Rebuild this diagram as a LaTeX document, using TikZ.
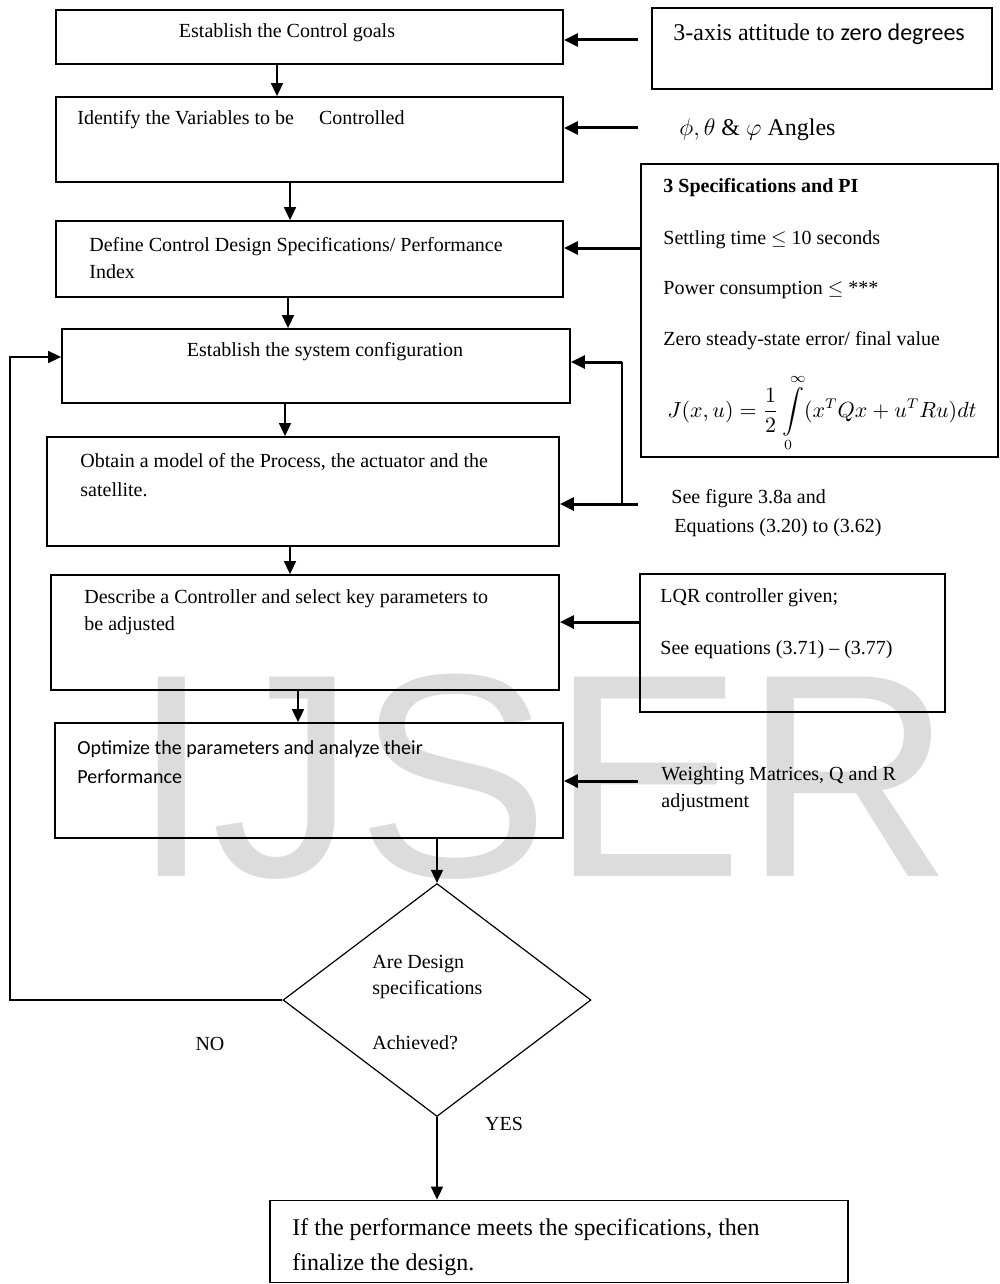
\documentclass[tikz,border=0pt]{standalone}
\usepackage{amsmath}
\usepackage{fontspec}
\setmainfont{Liberation Serif}
\newfontfamily\calibri{Carlito}
\newfontfamily\wmfont{Liberation Sans}
\usepackage{tikz}
\usetikzlibrary{positioning,shapes,arrows.meta,calc}
\definecolor{wmgray}{HTML}{DCDCDC}

\begin{document}
\begin{tikzpicture}[x=0.5pt, y=-0.5pt,
    box/.style={draw=black, line width=0.9pt, rectangle, inner sep=0pt},
    txt/.style={anchor=west, align=left, inner sep=0pt, font=\fontsize{10}{13.5}\selectfont},
    arr/.style={line width=0.8pt, -{Triangle[length=6.5pt,width=6pt]}},
    inarr/.style={line width=1.5pt, -{Triangle[length=7pt,width=6.5pt]}}]
      \useasboundingbox (0,0) rectangle (1000,1284);
      \node[font=\wmfont\fontsize{145}{145}\selectfont, text=wmgray, anchor=base, inner sep=0pt] (wm) at (542,876) {IJSER};

      \node[box, minimum width=253.5pt, minimum height=27pt] (b1) at (309.5,37) {};
      \node[box, minimum width=253.5pt, minimum height=42.5pt] (b2) at (309.5,139.5) {};
      \node[box, minimum width=253.5pt, minimum height=38pt] (b3) at (309.5,259) {};
      \node[box, minimum width=254pt, minimum height=37pt] (b4) at (316,366) {};
      \node[box, minimum width=256pt, minimum height=54.5pt] (b5) at (303,491.5) {};
      \node[box, minimum width=254pt, minimum height=57.5pt] (b6) at (305,632.5) {};
      \node[box, minimum width=254pt, minimum height=57.5pt] (b7) at (309,780.5) {};
      \node[draw, line width=0.6pt, diamond, minimum width=154pt, minimum height=116.5pt, inner sep=0pt] (dia) at (437,1000) {};
      \node[box, minimum width=289pt, minimum height=41pt] (fin) at (559,1241.5) {};
      \node[box, minimum width=170pt, minimum height=40.5pt] (ax) at (822,48.5) {};
      \node[box, minimum width=178.5pt, minimum height=146.5pt] (spec) at (819.5,310.5) {};
      \node[box, minimum width=152.5pt, minimum height=69pt] (lqr) at (792.5,643) {};

      \node[txt, anchor=center] (t1) at (287,33) {Establish the Control goals};
      \node[txt] (t2) at (77,120) {Identify the Variables to be \quad Controlled};
      \node[txt] (t3) at (89,258.5) {Define Control Design Specifications/ Performance\\Index};
      \node[txt, anchor=center] (t4) at (325,352) {Establish the system configuration};
      \node[txt, font=\fontsize{10}{14.5}\selectfont] (t5) at (80,475.5) {Obtain a model of the Process, the actuator and the\\satellite.};
      \node[txt] (t6) at (84,612.5) {Describe a Controller and select key parameters to\\be adjusted};
      \node[txt, font=\calibri\fontsize{10}{14.5}\selectfont] (t7) at (77,762.5) {Optimize the parameters and analyze their\\Performance};
      \node[txt, font=\fontsize{10}{13}\selectfont] (dq) at (372,1002.5) {Are Design\\specifications\\[14.5pt]Achieved?};
      \node[txt, anchor=center] (no) at (210,1044) {NO};
      \node[txt, anchor=center] (yes) at (504,1124) {YES};
      \node[txt, font=\fontsize{12}{17.5}\selectfont] (tf) at (292,1247.5) {If the performance meets the specifications, then\\finalize the design.};

      \node[txt, font=\fontsize{12}{14}\selectfont] (tax) at (673,34) {3-axis attitude to {\calibri zero degrees}};
      \node[txt, font=\fontsize{12}{14}\selectfont] (ang) at (679,130) {$\phi, \theta$ \& $\varphi$ Angles};
      \node[txt, font=\bfseries\fontsize{10}{12}\selectfont] (s0) at (663,188) {3 Specifications and PI};
      \node[txt] (s1) at (663,240) {Settling time $\leq$ 10 seconds};
      \node[txt] (s2) at (663,290) {Power consumption $\leq$ ***};
      \node[txt] (s3) at (663,341) {Zero steady-state error/ final value};
      \node[txt, anchor=center, font=\fontsize{10.5}{12}\selectfont] (s4) at (822,413) {$\displaystyle J(x,u)=\frac{1}{2}\int\limits_0^\infty (x^TQx+u^TRu)dt$};
      \node[txt, font=\fontsize{10}{14.5}\selectfont] (sf) at (671,513.5) {See figure 3.8a and\\\hspace{1.5pt}Equations (3.20) to (3.62)};
      \node[txt, font=\fontsize{10}{26}\selectfont] (lq) at (660,624) {LQR controller given;\\See equations (3.71) -- (3.77)};
      \node[txt] (wt) at (661,789.5) {Weighting Matrices, Q and R\\adjustment};

      \coordinate (c1) at (638,40);
      \coordinate (c2) at (638,128);
      \coordinate (c3) at (641,248);
      \coordinate (c4) at (622,362);
      \coordinate (c5) at (638,504);
      \coordinate (c5b) at (622,504);
      \coordinate (c6) at (640,622);
      \coordinate (c7) at (638,781);
      \coordinate (lx) at (10,0);
      \coordinate (v1) at (277,0);
      \coordinate (v2) at (290,0);
      \coordinate (v3) at (288,0);
      \coordinate (v4) at (285,0);
      \coordinate (v6) at (298,0);

      \draw[arr] (v1 |- b1.south) -- (v1 |- b2.north);
      \draw[arr] (v2 |- b2.south) -- (v2 |- b3.north);
      \draw[arr] (v3 |- b3.south) -- (v3 |- b4.north);
      \draw[arr] (v4 |- b4.south) -- (v4 |- b5.north);
      \draw[arr] (v2 |- b5.south) -- (v2 |- b6.north);
      \draw[arr] (v6 |- b6.south) -- (v6 |- b7.north);
      \draw[arr] (b7.south -| dia.north) -- (dia.north);
      \draw[arr] (dia.south) -- (dia.south |- fin.north);
      \draw[arr] (dia.west) -- (dia.west -| lx) |- ([yshift=4.5pt]b4.west);

      \draw[inarr] (c1) -- (c1 -| b1.east);
      \draw[inarr] (c2) -- (c2 -| b2.east);
      \draw[inarr] (c3) -- (c3 -| b3.east);
      \draw[line width=1pt] (c5b) -- (c4);
      \draw[inarr] (c4) -- (c4 -| b4.east);
      \draw[inarr] (c5) -- (c5 -| b5.east);
      \draw[inarr] (c6) -- (c6 -| b6.east);
      \draw[inarr] (c7) -- (c7 -| b7.east);
    \end{tikzpicture}
\end{document}
